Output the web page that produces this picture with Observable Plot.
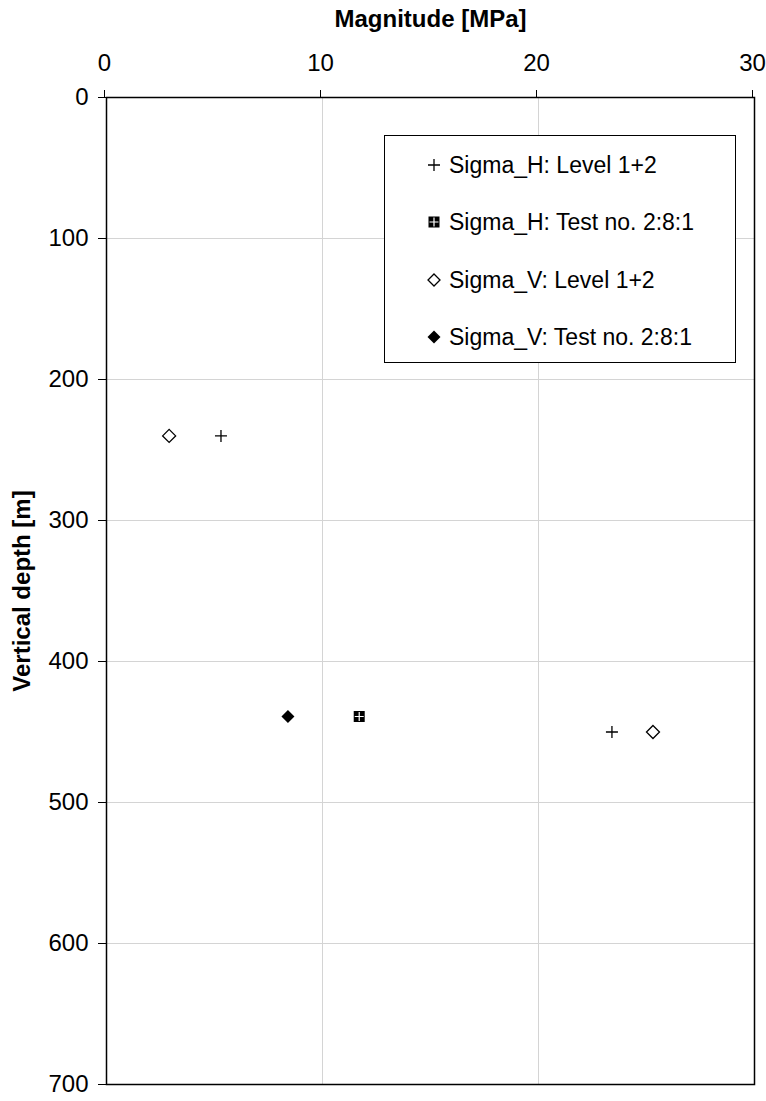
<!DOCTYPE html>
<html><head><meta charset="utf-8">
<script src="https://cdn.jsdelivr.net/npm/d3@7"></script>
<script src="https://cdn.jsdelivr.net/npm/@observablehq/plot@0.6"></script>
<style>
body{margin:0;background:#fff;font-family:"Liberation Sans",Arial,sans-serif;}
#wrap{position:relative;width:766px;height:1101px;}
#legend{position:absolute;left:384px;top:135px;width:352px;height:228px;border:1px solid #000;background:#fff;box-sizing:border-box;}
.item{position:absolute;left:42px;height:24px;display:flex;align-items:center;font-size:23px;color:#000;white-space:nowrap;}
.item svg{margin-right:8px;}
</style></head><body><div id="wrap"></div>
<script>
// ---- data ----
const seriesNames = ["Sigma_H: Level 1+2", "Sigma_H: Test no. 2:8:1", "Sigma_V: Level 1+2", "Sigma_V: Test no. 2:8:1"];
const sigmaHLevelMPa = [5.3, 23.4];
const sigmaHLevelDepth = [240, 450];
const sigmaHTestMPa = [11.7];
const sigmaHTestDepth = [439];
const sigmaVLevelMPa = [2.9, 25.3];
const sigmaVLevelDepth = [240, 450];
const sigmaVTestMPa = [8.4];
const sigmaVTestDepth = [439];
const xTicks = [0, 10, 20, 30];
const yTicks = [0, 100, 200, 300, 400, 500, 600, 700];
const xTitle = "Magnitude [MPa]";
const yTitle = "Vertical depth [m]";

const toRows = (xs, ys) => xs.map((x, i) => ({x, y: ys[i]}));

// ---- symbols ----
const crossSym = {draw(c){const h=6; c.moveTo(-h,0); c.lineTo(h,0); c.moveTo(0,-h); c.lineTo(0,h);}};
const smallCross = {draw(c){const h=4.5; c.moveTo(-h,0); c.lineTo(h,0); c.moveTo(0,-h); c.lineTo(0,h);}};
const diamondSym = {draw(c){const h=6.5; c.moveTo(0,-h); c.lineTo(h,0); c.lineTo(0,h); c.lineTo(-h,0); c.closePath();}};
const squareSym = {draw(c){const h=5.5; c.rect(-h,-h,2*h,2*h);}};

const fs = 24;
const chart = Plot.plot({
  width: 766, height: 1101,
  marginTop: 97, marginBottom: 17, marginLeft: 106, marginRight: 12,
  style: {fontFamily: '"Liberation Sans", Arial, sans-serif', fontSize: fs + "px", color: "#000", background: "#fff"},
  x: {domain: [0, 30]},
  y: {domain: [0, 700], reverse: true},
  marks: [
    Plot.gridX([10, 20], {stroke: "#d4d4d4", strokeOpacity: 1}),
    Plot.gridY(yTicks.filter(t => t > 0 && t < 700), {stroke: "#d4d4d4", strokeOpacity: 1}),
    Plot.frame({stroke: "#000", strokeWidth: 1.5}),
    Plot.axisX(xTicks, {anchor: "top", tickSize: 8, tickPadding: 19, dx: -2, label: null, fontSize: fs}),
    Plot.axisY(yTicks, {anchor: "left", tickSize: 8, tickPadding: 10, label: null, fontSize: fs}),
    Plot.text([xTitle], {text: d => d, frameAnchor: "top", dy: -78, lineAnchor: "middle", fontWeight: "bold", fontSize: fs}),
    Plot.text([yTitle], {text: d => d, frameAnchor: "left", dx: -84, rotate: -90, textAnchor: "middle", lineAnchor: "middle", fontWeight: "bold", fontSize: fs}),
    Plot.dot(toRows(sigmaHLevelMPa, sigmaHLevelDepth), {x: "x", y: "y", symbol: crossSym, stroke: "#000", fill: "none", strokeWidth: 1.3}),
    Plot.dot(toRows(sigmaHTestMPa, sigmaHTestDepth), {x: "x", y: "y", symbol: squareSym, fill: "#000", stroke: "none"}),
    Plot.dot(toRows(sigmaHTestMPa, sigmaHTestDepth), {x: "x", y: "y", symbol: smallCross, stroke: "#fff", fill: "none", strokeWidth: 1.2}),
    Plot.dot(toRows(sigmaVLevelMPa, sigmaVLevelDepth), {x: "x", y: "y", symbol: diamondSym, stroke: "#000", fill: "#fff", strokeWidth: 1.3}),
    Plot.dot(toRows(sigmaVTestMPa, sigmaVTestDepth), {x: "x", y: "y", symbol: diamondSym, fill: "#000", stroke: "none"})
  ]
});
const wrap = document.getElementById("wrap");
wrap.appendChild(chart);

// ---- legend ----
const icons = [
  '<svg width="14" height="14" viewBox="-7 -7 14 14"><path d="M-6,0H6M0,-6V6" stroke="#000" stroke-width="1.3"/></svg>',
  '<svg width="14" height="14" viewBox="-7 -7 14 14"><rect x="-5.5" y="-5.5" width="11" height="11" fill="#000"/><path d="M-4.5,0H4.5M0,-4.5V4.5" stroke="#fff" stroke-width="1.2"/></svg>',
  '<svg width="14" height="14" viewBox="-7 -7 14 14"><path d="M0,-6L6,0L0,6L-6,0Z" fill="#fff" stroke="#000" stroke-width="1.3"/></svg>',
  '<svg width="14" height="14" viewBox="-7 -7 14 14"><path d="M0,-6.5L6.5,0L0,6.5L-6.5,0Z" fill="#000"/></svg>'
];
const legend = document.createElement("div");
legend.id = "legend";
const itemTops = [17, 74, 132, 189];
seriesNames.forEach((name, i) => {
  const it = document.createElement("div");
  it.className = "item";
  it.style.top = itemTops[i] + "px";
  it.innerHTML = icons[i] + "<span>" + name + "</span>";
  legend.appendChild(it);
});
wrap.appendChild(legend);
</script>
</body></html>
